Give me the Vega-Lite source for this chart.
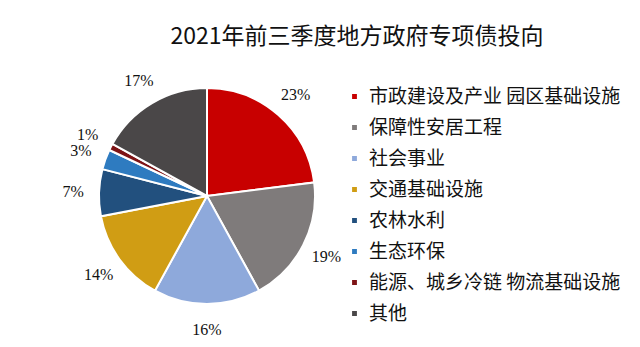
{
  "$schema": "https://vega.github.io/schema/vega-lite/v6.json",
  "autosize": {"type": "none"},
  "width": 216,
  "height": 216,
  "padding": {"left": 99, "top": 88, "right": 325, "bottom": 43},
  "background": "white",
  "title": {
    "text": "2021年前三季度地方政府专项债投向",
    "font": "Noto Sans CJK SC",
    "fontSize": 23,
    "fontWeight": "normal",
    "color": "#111111",
    "anchor": "middle",
    "dx": 150,
    "offset": 24
  },
  "data": {
    "values": [
      {"k": 1, "cat": "市政建设及产业 园区基础设施", "v": 23, "lab": "23%"},
      {"k": 2, "cat": "保障性安居工程", "v": 19, "lab": "19%"},
      {"k": 3, "cat": "社会事业", "v": 16, "lab": "16%"},
      {"k": 4, "cat": "交通基础设施", "v": 14, "lab": "14%"},
      {"k": 5, "cat": "农林水利", "v": 7, "lab": "7%"},
      {"k": 6, "cat": "生态环保", "v": 3, "lab": "3%"},
      {"k": 7, "cat": "能源、城乡冷链 物流基础设施", "v": 1, "lab": "1%"},
      {"k": 8, "cat": "其他", "v": 17, "lab": "17%"}
    ]
  },
  "encoding": {
    "theta": {"field": "v", "type": "quantitative", "stack": true},
    "order": {"field": "k", "type": "quantitative"},
    "color": {
      "field": "cat",
      "type": "nominal",
      "sort": null,
      "scale": {
        "domain": ["市政建设及产业 园区基础设施", "保障性安居工程", "社会事业", "交通基础设施", "农林水利", "生态环保", "能源、城乡冷链 物流基础设施", "其他"],
        "range": ["#C80000", "#7F7B7B", "#8EA9DB", "#D09D14", "#22507E", "#2E7BC0", "#7E1416", "#4A4748"]
      },
      "legend": {
        "title": null,
        "orient": "none",
        "legendX": 246,
        "legendY": -1,
        "symbolType": "square",
        "symbolSize": 40,
        "labelFont": "Noto Sans CJK SC",
        "labelFontSize": 19,
        "labelColor": "#111111",
        "labelLimit": 400,
        "rowPadding": 11,
        "labelOffset": 5
      }
    }
  },
  "layer": [
    {"mark": {"type": "arc", "outerRadius": 108, "stroke": "white", "strokeWidth": 2}},
    {
      "mark": {"type": "text", "radius": 134, "font": "Liberation Serif", "fontSize": 16, "color": "#111111"},
      "encoding": {"text": {"field": "lab"}, "color": {"value": "#111111"}}
    }
  ]
}
